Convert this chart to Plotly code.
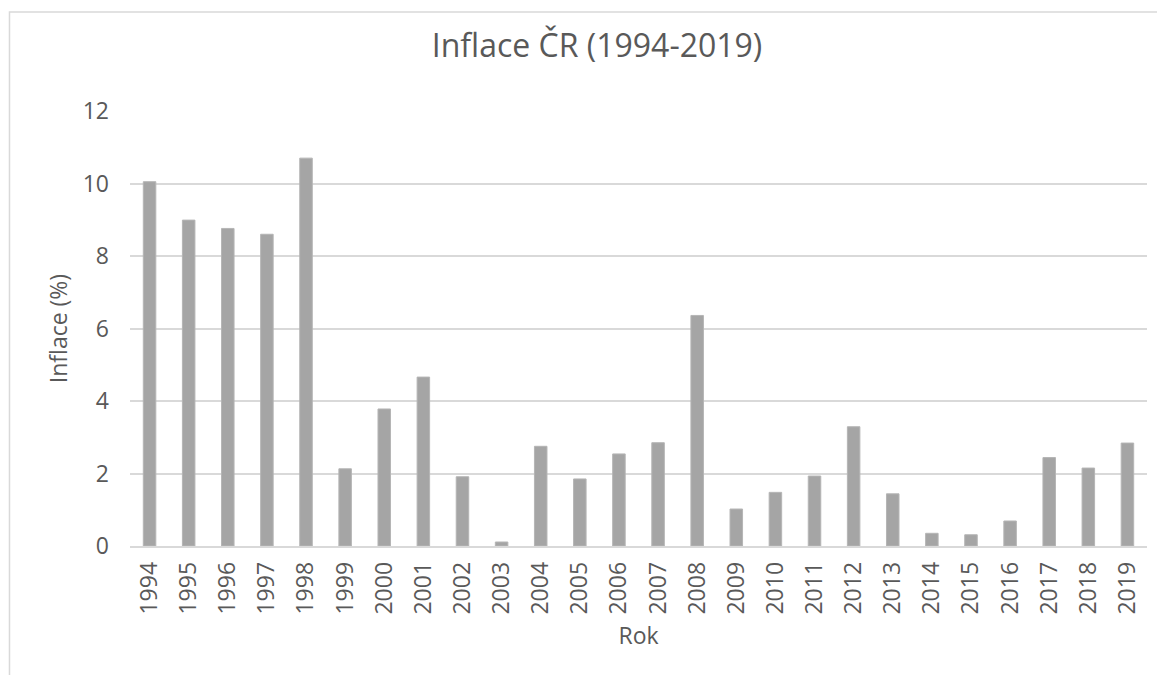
import plotly.graph_objects as go

years = [str(y) for y in range(1994, 2020)]
inflation = [10.05, 8.99, 8.76, 8.60, 10.70, 2.13, 3.78, 4.66, 1.91, 0.11,
             2.75, 1.85, 2.54, 2.85, 6.36, 1.02, 1.48, 1.93, 3.29, 1.44,
             0.35, 0.31, 0.69, 2.44, 2.15, 2.84]
y_ticks = [0, 2, 4, 6, 8, 10, 12]

FONT = "Open Sans"
TEXT = "#595959"
GRID = "#D9D9D9"

fig = go.Figure(go.Bar(
    x=years, y=inflation,
    marker=dict(color="#A5A5A5", line=dict(color="#B5B5B5", width=1)),
    width=0.32,
    hovertemplate="%{x}: %{y:.2f} %<extra></extra>",
))

# the page body has an 8px margin, so margins are shifted by that
fig.update_layout(
    width=1165, height=675,
    margin=dict(l=122, r=26, t=103, b=137),
    paper_bgcolor="white", plot_bgcolor="white",
    font=dict(family=FONT, color=TEXT),
    title=dict(text="Inflace ČR (1994-2019)", font=dict(size=32, color=TEXT),
               xref="container", x=0.5056, xanchor="center",
               yref="container", y=0.944, yanchor="middle"),
    showlegend=False,
    xaxis=dict(
        type="category", tickangle=-90, tickfont=dict(size=23, color=TEXT),
        showgrid=False, showline=True, linecolor=GRID, linewidth=1.5,
        ticks="", ticklabelstandoff=5,
        title=dict(text="Rok", font=dict(size=23, color=TEXT), standoff=14),
    ),
    yaxis=dict(
        range=[0, 12], tickvals=y_ticks, tickfont=dict(size=23, color=TEXT),
        showgrid=True, gridcolor=GRID, gridwidth=1.5, zeroline=False,
        showline=False, ticks="", ticklabelstandoff=20,
        title=dict(text="Inflace (%)", font=dict(size=23, color=TEXT), standoff=8),
    ),
)

# chart-area border like the spreadsheet frame
fig.add_shape(type="rect", xref="paper", yref="paper",
              x0=-0.1185, x1=1.03, y0=-0.33, y1=1.2276,
              line=dict(color=GRID, width=1.5), fillcolor="rgba(0,0,0,0)", layer="below")

fig.write_html("out.html")
